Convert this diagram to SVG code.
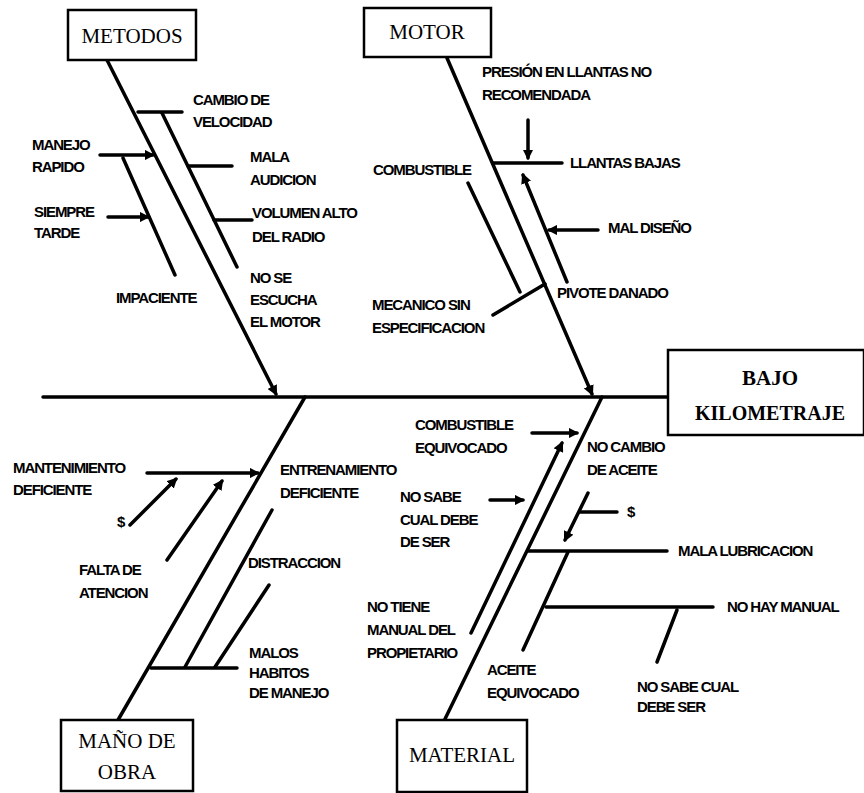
<svg xmlns="http://www.w3.org/2000/svg" width="864" height="793" viewBox="0 0 864 793">
<defs>
<marker id="ah" viewBox="0 0 10 10" refX="8" refY="5" markerWidth="3" markerHeight="3" orient="auto-start-reverse"><path d="M0,0 L10,5 L0,10 z" fill="#000"/></marker>
<style>
.l{stroke:#000;stroke-width:3.5;fill:none;stroke-linecap:round}
.a{marker-end:url(#ah)}
.s{marker-start:url(#ah)}
.bx{fill:#fff;stroke:#000;stroke-width:2.5}
.t{font-family:"Liberation Sans",Arial,sans-serif;font-weight:bold;font-size:15px;letter-spacing:-1.1px;fill:#000}
.h{font-family:"Liberation Serif","Times New Roman",serif;font-size:21px;fill:#000;text-anchor:middle}
</style>
</defs>
<rect width="864" height="793" fill="#fff"/>
<g id="connectors">
<line class="l" x1="43" y1="397" x2="668" y2="397" stroke-width="4"/>
<line class="l a" x1="107" y1="60" x2="276" y2="394"/>
<line class="l a" x1="447" y1="58" x2="592" y2="394"/>
<line class="l" x1="305" y1="397" x2="118" y2="720"/>
<line class="l" x1="602" y1="397" x2="445" y2="719"/>
</g>
<g id="metodos">
<rect class="bx" x="68" y="10" width="128" height="50"/>
<text class="h" x="132" y="43">METODOS</text>
<line class="l" x1="138" y1="112" x2="182" y2="112"/>
<line class="l" x1="162" y1="113" x2="237" y2="267"/>
<line class="l" x1="188" y1="166" x2="232" y2="166"/>
<line class="l" x1="214" y1="220" x2="252" y2="220"/>
<line class="l a" x1="100" y1="155" x2="153" y2="155"/>
<line class="l" x1="123" y1="158" x2="175" y2="275"/>
<line class="l a" x1="108" y1="217" x2="148" y2="217"/>
<text class="t" x="193" y="105">CAMBIO DE</text>
<text class="t" x="193" y="127">VELOCIDAD</text>
<text class="t" x="32" y="150">MANEJO</text>
<text class="t" x="32" y="172">RAPIDO</text>
<text class="t" x="34" y="217">SIEMPRE</text>
<text class="t" x="34" y="238">TARDE</text>
<text class="t" x="116" y="303">IMPACIENTE</text>
<text class="t" x="250" y="162">MALA</text>
<text class="t" x="250" y="185">AUDICION</text>
<text class="t" x="252" y="218">VOLUMEN ALTO</text>
<text class="t" x="252" y="242">DEL RADIO</text>
<text class="t" x="250" y="283">NO SE</text>
<text class="t" x="250" y="305">ESCUCHA</text>
<text class="t" x="250" y="327">EL MOTOR</text>
</g>
<g id="motor">
<rect class="bx" x="364" y="8" width="127" height="49"/>
<text class="h" x="427" y="39">MOTOR</text>
<line class="l a" x1="528" y1="120" x2="528" y2="158"/>
<line class="l" x1="493" y1="163" x2="562" y2="163"/>
<line class="l s" x1="523" y1="175" x2="567" y2="282"/>
<line class="l a" x1="598" y1="230" x2="549" y2="230"/>
<line class="l" x1="468" y1="183" x2="520" y2="292"/>
<line class="l" x1="493" y1="315" x2="545" y2="284"/>
<text class="t" x="482" y="77">PRESIÓN EN LLANTAS NO</text>
<text class="t" x="482" y="100">RECOMENDADA</text>
<text class="t" x="570" y="168">LLANTAS BAJAS</text>
<text class="t" x="608" y="233">MAL DISEÑO</text>
<text class="t" x="557" y="298">PIVOTE DANADO</text>
<text class="t" x="373" y="175">COMBUSTIBLE</text>
<text class="t" x="372" y="310">MECANICO SIN</text>
<text class="t" x="372" y="333">ESPECIFICACION</text>
</g>
<g id="mano-de-obra">
<rect class="bx" x="61" y="720" width="132" height="71"/>
<text class="h" x="127" y="748">MAÑO DE</text>
<text class="h" x="127" y="779">OBRA</text>
<line class="l a" x1="147" y1="473" x2="258" y2="473"/>
<line class="l a" x1="130" y1="525" x2="176" y2="479"/>
<line class="l a" x1="167" y1="560" x2="222" y2="481"/>
<line class="l" x1="272" y1="510" x2="185" y2="667"/>
<line class="l" x1="269" y1="585" x2="215" y2="667"/>
<line class="l" x1="151" y1="668" x2="237" y2="668"/>
<text class="t" x="13" y="473">MANTENIMIENTO</text>
<text class="t" x="13" y="495">DEFICIENTE</text>
<text class="t" x="117" y="527">$</text>
<text class="t" x="79" y="575">FALTA DE</text>
<text class="t" x="79" y="598">ATENCION</text>
<text class="t" x="280" y="475">ENTRENAMIENTO</text>
<text class="t" x="280" y="498">DEFICIENTE</text>
<text class="t" x="248" y="568">DISTRACCION</text>
<text class="t" x="249" y="658">MALOS</text>
<text class="t" x="249" y="678">HABITOS</text>
<text class="t" x="249" y="698">DE MANEJO</text>
</g>
<g id="material">
<rect class="bx" x="397" y="720" width="130" height="72"/>
<text class="h" x="462" y="762">MATERIAL</text>
<line class="l a" x1="532" y1="433" x2="577" y2="433"/>
<line class="l a" x1="471" y1="633" x2="562" y2="443"/>
<line class="l a" x1="490" y1="500" x2="523" y2="500"/>
<line class="l a" x1="588" y1="493" x2="565" y2="540"/>
<line class="l" x1="580" y1="512" x2="617" y2="512"/>
<line class="l" x1="528" y1="551" x2="667" y2="551"/>
<line class="l" x1="568" y1="552" x2="523" y2="650"/>
<line class="l" x1="546" y1="607" x2="713" y2="607"/>
<line class="l" x1="677" y1="610" x2="657" y2="662"/>
<text class="t" x="415" y="430">COMBUSTIBLE</text>
<text class="t" x="415" y="453">EQUIVOCADO</text>
<text class="t" x="367" y="612">NO TIENE</text>
<text class="t" x="367" y="635">MANUAL DEL</text>
<text class="t" x="367" y="658">PROPIETARIO</text>
<text class="t" x="400" y="502">NO SABE</text>
<text class="t" x="400" y="525">CUAL DEBE</text>
<text class="t" x="400" y="547">DE SER</text>
<text class="t" x="587" y="452">NO CAMBIO</text>
<text class="t" x="587" y="475">DE ACEITE</text>
<text class="t" x="627" y="517">$</text>
<text class="t" x="678" y="556">MALA LUBRICACION</text>
<text class="t" x="727" y="612">NO HAY MANUAL</text>
<text class="t" x="487" y="675">ACEITE</text>
<text class="t" x="487" y="698">EQUIVOCADO</text>
<text class="t" x="637" y="692">NO SABE CUAL</text>
<text class="t" x="637" y="712">DEBE SER</text>
</g>
<g id="bajo-kilometraje">
<rect class="bx" x="668" y="350" width="196" height="85"/>
<text class="h" x="770" y="385" font-size="23" font-weight="bold">BAJO</text>
<text class="h" x="770" y="420" font-size="23" font-weight="bold" textLength="150" lengthAdjust="spacingAndGlyphs">KILOMETRAJE</text>
</g>
</svg>
